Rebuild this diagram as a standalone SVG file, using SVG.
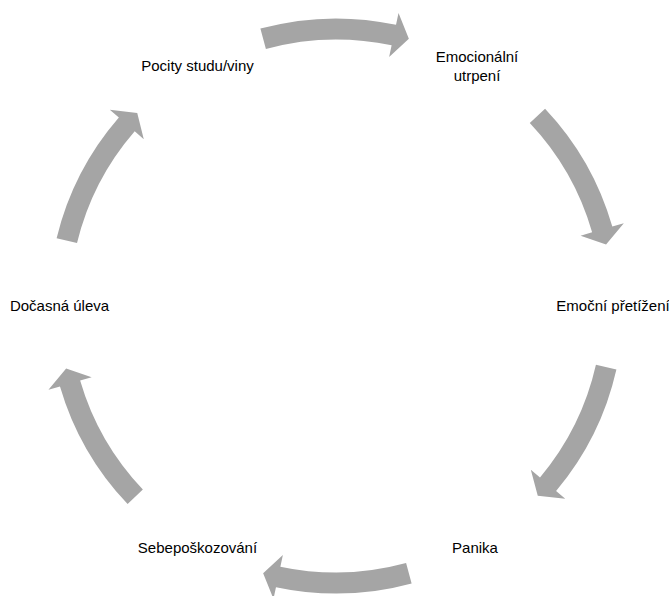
<svg xmlns="http://www.w3.org/2000/svg" width="669" height="596" viewBox="0 0 669 596">
  <style>
    .lbl { font-family: "Liberation Sans", Arial, sans-serif; font-size: 15px; fill: #000000; text-anchor: middle; }
    .arrow { fill: #a5a5a5; stroke: none; }
  </style>
  <defs>
    <path id="arc-arrow" d="M 277.38 -75.62 A 287.5 287.5 0 0 1 281.17 60.02 L 292.90 62.52 L 267.25 72.86 L 248.89 53.13 L 260.63 55.63 A 266.5 266.5 0 0 0 257.12 -70.10 Z"/>
  </defs>
  <rect x="0" y="0" width="669" height="596" fill="#ffffff"/>
  <g id="connectors">
    <use href="#arc-arrow" class="arrow" transform="translate(336 306) rotate(-90)"/>
    <use href="#arc-arrow" class="arrow" transform="translate(336 306) rotate(-28.1)"/>
    <use href="#arc-arrow" class="arrow" transform="translate(336 306) rotate(28)"/>
    <use href="#arc-arrow" class="arrow" transform="translate(336 306) rotate(90)"/>
    <use href="#arc-arrow" class="arrow" transform="translate(336 306) rotate(151.7)"/>
    <use href="#arc-arrow" class="arrow" transform="translate(336 306) rotate(208.9)"/>
  </g>
  <g id="node-pocity">
    <text class="lbl" x="197.5" y="70.5">Pocity studu/viny</text>
  </g>
  <g id="node-emocionalni">
    <text class="lbl" x="477" y="61.5">Emocionální</text>
    <text class="lbl" x="477" y="80.5">utrpení</text>
  </g>
  <g id="node-pretizeni">
    <text class="lbl" x="613" y="311">Emoční přetížení</text>
  </g>
  <g id="node-panika">
    <text class="lbl" x="475" y="552.5">Panika</text>
  </g>
  <g id="node-sebeposkozovani">
    <text class="lbl" x="197.5" y="552.5">Sebepoškozování</text>
  </g>
  <g id="node-uleva">
    <text class="lbl" x="59.5" y="311">Dočasná úleva</text>
  </g>
</svg>
